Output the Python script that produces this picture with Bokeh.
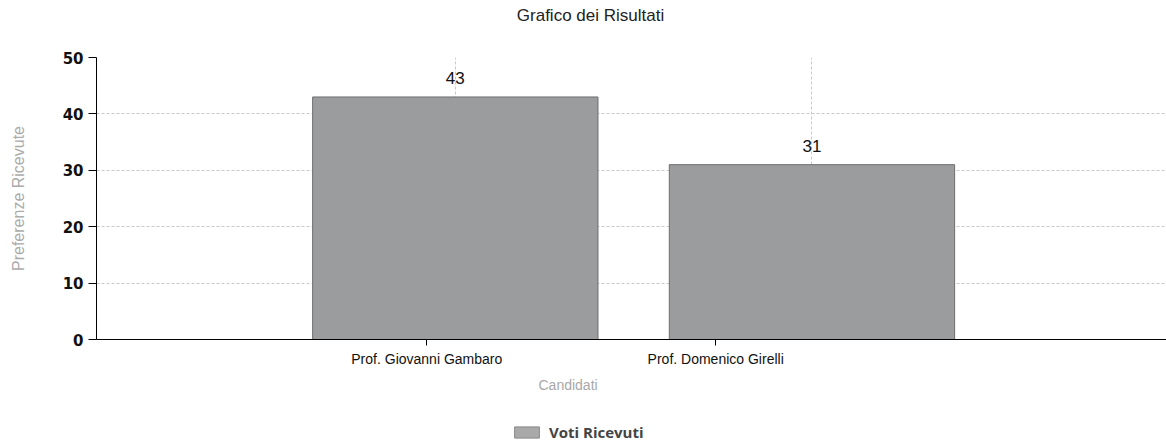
from bokeh.plotting import figure
from bokeh.layouts import column
from bokeh.models import (ColumnDataSource, Range1d, FixedTicker, LabelSet, Title, Label,
                          Legend, LegendItem)
from bokeh.core.properties import value
from bokeh.embed import file_html
from bokeh.resources import INLINE

# ---- data ----
title_text = "Grafico dei Risultati"
categories = ["Prof. Giovanni Gambaro", "Prof. Domenico Girelli"]
votes = [43, 31]
series_name = "Voti Ricevuti"
y_ticks = [0, 10, 20, 30, 40, 50]

# ---- layout / style ----
positions = [i + 1 for i in range(len(categories))]
label_shift = [-0.08, -0.27]   # category labels in the reference sit left of the bars
tick_pos = [p_ + s for p_, s in zip(positions, label_shift)]
BAR_FILL = "#9b9c9e"
BAR_LINE = "#6e6e6e"


def strip(height):
    f = figure(width=1166, height=height, output_backend="svg", toolbar_location=None,
               x_range=Range1d(0, 1), y_range=Range1d(0, 1), min_border=0)
    f.axis.visible = False
    f.grid.visible = False
    f.outline_line_color = None
    return f


# ---- title strip ----
ts = strip(30)
ts.add_layout(Label(x=494, y=15, x_units="screen", y_units="screen", text=title_text,
                    text_align="center", text_baseline="middle",
                    text_font="Liberation Sans", text_font_size="17px",
                    text_color="#222222"))

# ---- main chart ----
src = ColumnDataSource(dict(x=positions, top=votes, lab=[str(v) for v in votes]))

p = figure(width=1166, height=375, output_backend="svg", toolbar_location=None,
           x_range=Range1d(-0.006, 2.994), y_range=Range1d(0, 50),
           min_border_left=96, min_border_right=0, min_border_top=27, min_border_bottom=66)
p.outline_line_color = None
p.background_fill_color = "white"

bars = p.vbar(x="x", top="top", width=0.8, source=src,
              fill_color=BAR_FILL, line_color=BAR_LINE, line_width=1)

labels = LabelSet(x="x", y="top", text="lab", source=src, text_align="center",
                  text_baseline="bottom", y_offset=13, text_font=value("Liberation Sans"),
                  text_font_size=value("17px"), text_color="#111111")
p.add_layout(labels)

# axes
p.yaxis.ticker = FixedTicker(ticks=y_ticks)
p.yaxis.minor_tick_line_color = None
p.yaxis.major_tick_out = 8
p.yaxis.major_tick_in = 0
p.yaxis.major_tick_line_color = "black"
p.yaxis.axis_line_color = "black"
p.yaxis.major_label_text_font = "DejaVu Sans"
p.yaxis.major_label_text_font_style = "bold"
p.yaxis.major_label_text_font_size = "15px"
p.yaxis.major_label_text_color = "#111111"
p.yaxis.major_label_standoff = 5
p.yaxis.axis_label = "Preferenze Ricevute"
p.yaxis.axis_label_text_font = "Liberation Sans"
p.yaxis.axis_label_text_font_style = "normal"
p.yaxis.axis_label_text_font_size = "16px"
p.yaxis.axis_label_text_color = "#ababab"
p.yaxis.axis_label_standoff = 33

p.xaxis.ticker = FixedTicker(ticks=tick_pos)
p.xaxis.major_label_overrides = {t: c for t, c in zip(tick_pos, categories)}
p.xaxis.minor_tick_line_color = None
p.xaxis.major_tick_out = 6
p.xaxis.major_tick_in = 0
p.xaxis.axis_line_color = "black"
p.xaxis.major_tick_line_color = "black"
p.xaxis.major_label_text_font = "Liberation Sans"
p.xaxis.major_label_text_font_size = "14px"
p.xaxis.major_label_text_color = "#111111"
p.xaxis.major_label_standoff = 5

# x axis title, placed left of the frame centre as in the reference
p.add_layout(Title(text="Candidati", align="left", offset=442, standoff=10,
                   text_font="Liberation Sans", text_font_size="14px",
                   text_font_style="normal", text_color="#a8a8a8"), "below")

# grids
p.ygrid.ticker = FixedTicker(ticks=y_ticks)
p.ygrid.grid_line_color = "#c8c8c8"
p.ygrid.grid_line_dash = "3 2"
p.xgrid.ticker = FixedTicker(ticks=positions)
p.xgrid.grid_line_color = "#c8c8c8"
p.xgrid.grid_line_dash = "3 2"

# ---- legend strip below the chart ----
lg = strip(41)
# legend proxy: one hidden bar outside the visible range, styled like the real bars
proxy = lg.vbar(x=[series_name], top=[0], width=0.1,
                fill_color="#a9a9a9", line_color="#8a8a8a")
proxy.glyph.x = -5
legend = Legend(items=[LegendItem(label=series_name, renderers=[proxy])],
                location=(415, 4), orientation="horizontal",
                padding=0, margin=0, spacing=0, border_line_color=None,
                background_fill_alpha=0, glyph_width=31, glyph_height=14,
                label_text_font="Open Sans", label_text_font_style="bold",
                label_text_font_size="15px", label_standoff=7, label_height=15)
lg.add_layout(legend)

layout = column(ts, p, lg, spacing=0)
open("out.html", "w").write(file_html(layout, INLINE))
